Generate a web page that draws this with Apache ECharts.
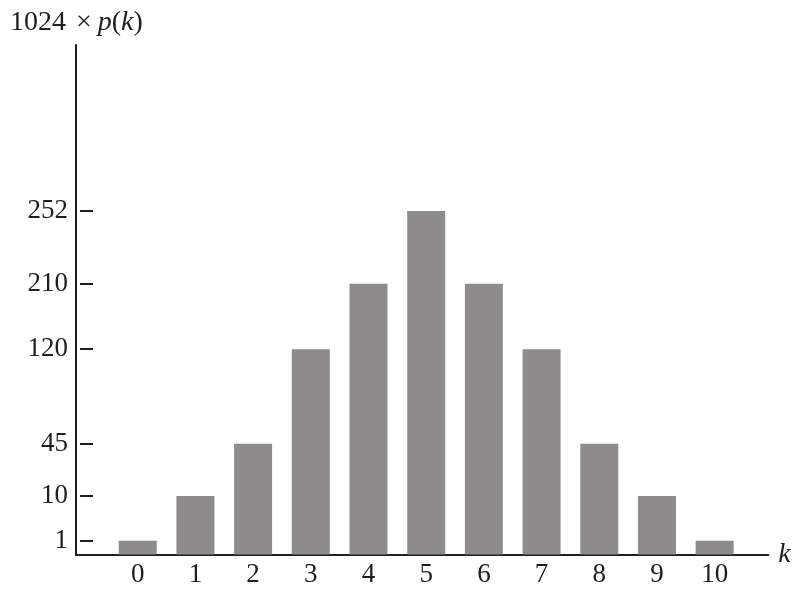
<!DOCTYPE html>
<html>
<head>
<meta charset="utf-8">
<script src="https://cdn.jsdelivr.net/npm/echarts@6/dist/echarts.min.js"></script>
<style>
html,body{margin:0;padding:0;background:#fff;}
#chart{width:802px;height:596px;}
</style>
</head>
<body>
<div id="chart"></div>
<script>
// Data
const categories = [0, 1, 2, 3, 4, 5, 6, 7, 8, 9, 10];
const values = [1, 10, 45, 120, 210, 252, 210, 120, 45, 10, 1];
// Tick labels of the (schematic, non-linear) y axis
const yTickValues = [1, 10, 45, 120, 210, 252];
// Schematic axis scale: the level (0-100 of axis height) at which each tick value is drawn
const yTickLevels = [2.7, 11.5, 21.75, 40.3, 53.15, 67.4];

function toLevel(v) {
  const i = yTickValues.indexOf(v);
  return yTickLevels[i];
}
function levelToLabel(l) {
  for (let i = 0; i < yTickLevels.length; i++) {
    if (Math.abs(yTickLevels[i] - l) < 1e-6) return String(yTickValues[i]);
  }
  return '';
}

const FONT = '"Liberation Serif", "DejaVu Serif", serif';
const INK = '#1e1e1e';

const chart = echarts.init(document.getElementById('chart'), null, {renderer: 'canvas'});
chart.setOption({
  animation: false,
  backgroundColor: '#ffffff',
  title: {
    text: '{n|1024}{x|×}{i|p}{n|(}{i|k}{n|)}',
    left: 5,
    top: 4,
    textStyle: {
      fontWeight: 'normal',
      rich: {
        n: {fontFamily: FONT, fontSize: 28, color: INK, fontWeight: 'normal'},
        x: {fontFamily: FONT, fontSize: 28, color: INK, fontWeight: 'normal', padding: [0, 6, 0, 10]},
        i: {fontFamily: FONT, fontSize: 28, color: INK, fontStyle: 'italic', fontWeight: 'normal'}
      }
    }
  },
  grid: {left: 76, top: 45, right: 33.7, bottom: 41.5, containLabel: false},
  xAxis: {
    type: 'value',
    min: -1.07,
    max: 10.93,
    name: 'k',
    nameLocation: 'end',
    nameGap: 10,
    nameTextStyle: {fontFamily: FONT, fontSize: 28, fontStyle: 'italic', color: INK, verticalAlign: 'middle'},
    axisLine: {show: true, onZero: false, lineStyle: {color: INK, width: 2}},
    axisTick: {show: false},
    splitLine: {show: false},
    axisLabel: {
      customValues: categories,
      fontFamily: FONT, fontSize: 27, color: INK, margin: 7,
      formatter: v => String(v)
    }
  },
  yAxis: [{
    type: 'value',
    min: 0,
    max: 100,
    axisLine: {show: true, onZero: false, lineStyle: {color: INK, width: 2}},
    axisTick: {show: false},
    splitLine: {show: false},
    axisLabel: {
      customValues: yTickLevels,
      fontFamily: FONT, fontSize: 27, color: INK, margin: 8,
      formatter: v => levelToLabel(v)
    }
  }, {
    type: 'value',
    position: 'left',
    offset: -4,
    min: 0,
    max: 100,
    axisLine: {show: false, onZero: false},
    axisLabel: {show: false},
    splitLine: {show: false},
    axisTick: {
      show: true, inside: true, length: 13,
      customValues: yTickLevels,
      lineStyle: {color: INK, width: 2}
    }
  }],
  series: [{
    type: 'bar',
    xAxisIndex: 0,
    yAxisIndex: 0,
    barWidth: 38,
    itemStyle: {color: '#8d8b8b'},
    data: categories.map((k, i) => [k, toLevel(values[i])])
  }]
});
</script>
</body>
</html>
